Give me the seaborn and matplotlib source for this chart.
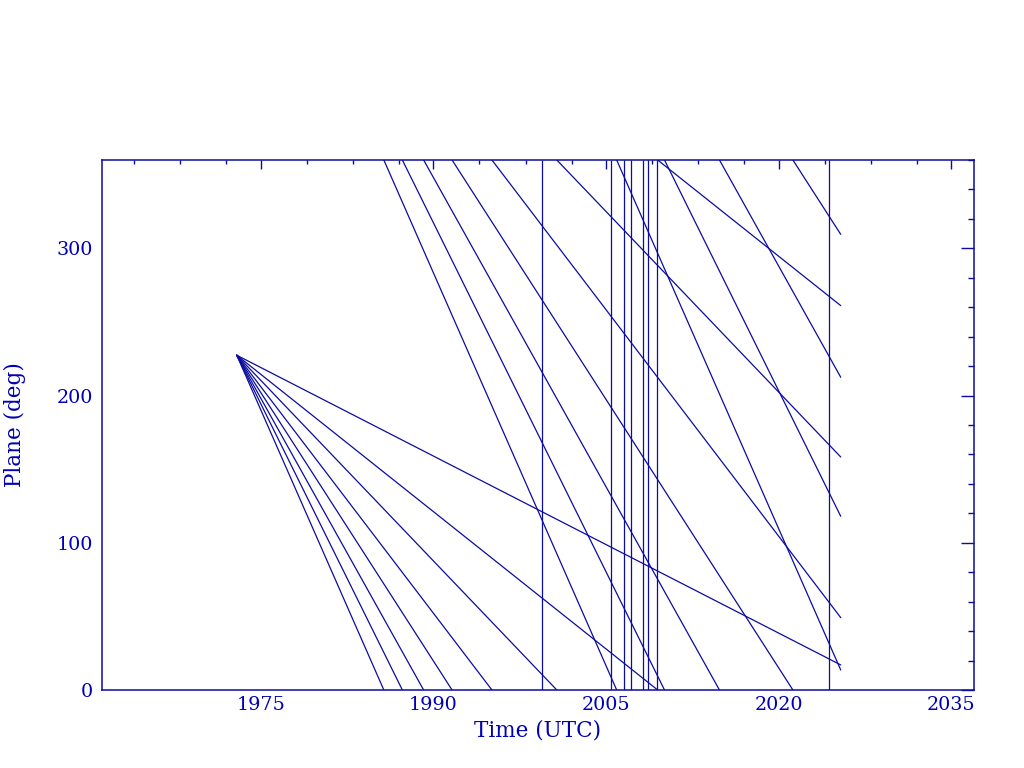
import numpy as np
import pandas as pd
import matplotlib
matplotlib.use("Agg")
import matplotlib.pyplot as plt
from matplotlib.ticker import FixedLocator, MultipleLocator
import seaborn as sns

# ---- data ----
start_year = 1972.92          # common origin of all plane tracks
start_plane = 227.4           # deg
end_year = 2025.38            # tracks stop here
drift_rates = [-17.80, -15.81, -14.01, -12.16, -10.26, -8.18, -6.22, -4.01]  # deg / year
event_years = [1999.46, 2005.45, 2006.58, 2007.19, 2008.23, 2008.67, 2009.45, 2024.39]

x_major = [1975, 1990, 2005, 2020, 2035]
x_minor = [1964, 1968, 1972, 1979, 1983, 1987, 1994, 1998, 2002,
           2009, 2013, 2017, 2024, 2028, 2032]
y_major = [0, 100, 200, 300]
x_limits = (1961.24, 2036.93)
y_limits = (0, 360)

LINE_COLOR = "#0c0c9e"
TEXT_COLOR = "#0000b4"

# ---- build wrapped (mod 360) segments of each track ----
rows = []
seg_id = 0
for li, rate in enumerate(drift_rates):
    t_prev, p_prev = start_year, start_plane
    k = 0
    while True:
        t_cross = start_year + (start_plane + 360 * k) / (-rate)
        if t_cross >= end_year:
            p_end = (start_plane + rate * (end_year - start_year)) % 360
            rows.append((li, seg_id, t_prev, p_prev))
            rows.append((li, seg_id, end_year, p_end))
            seg_id += 1
            break
        rows.append((li, seg_id, t_prev, p_prev))
        rows.append((li, seg_id, t_cross, 0.0))
        seg_id += 1
        t_prev, p_prev = t_cross, 360.0
        k += 1
df = pd.DataFrame(rows, columns=["track", "seg", "year", "plane"])

# ---- figure ----
sns.set_theme(style="white")
plt.rcParams["font.family"] = ["DejaVu Serif", "DejaVu Sans"]

fig = plt.figure(figsize=(10.24, 7.68), dpi=100)
ax = fig.add_axes([102.3 / 1024, 1 - 690 / 768, (973.7 - 102.3) / 1024, (690 - 160) / 768])

sns.lineplot(data=df, x="year", y="plane", units="seg", estimator=None,
             color=LINE_COLOR, lw=0.9, ax=ax, legend=False)
ax.vlines(event_years, y_limits[0], y_limits[1], color=LINE_COLOR, lw=0.9)

ax.set_xlim(*x_limits)
ax.set_ylim(*y_limits)

ax.xaxis.set_major_locator(FixedLocator(x_major))
ax.xaxis.set_minor_locator(FixedLocator(x_minor))
ax.set_xticklabels([str(v) for v in x_major])
ax.yaxis.set_major_locator(FixedLocator(y_major))
ax.yaxis.set_minor_locator(MultipleLocator(20))
ax.set_yticklabels([str(v) for v in y_major])

for sp in ax.spines.values():
    sp.set_color(LINE_COLOR)
    sp.set_linewidth(1.1)

ax.tick_params(axis="both", which="both", direction="in", top=True, right=True,
               color=LINE_COLOR, width=1.0, labelcolor=TEXT_COLOR, labelsize=13.8)
ax.tick_params(axis="x", which="major", length=6.5, pad=4.5)
ax.tick_params(axis="x", which="minor", length=3.2)
ax.tick_params(axis="y", which="major", length=9.1, pad=7)
ax.tick_params(axis="y", which="minor", length=4.3)

ax.set_xlabel("Time (UTC)", color=TEXT_COLOR, fontsize=15.5, va="center")
ax.set_ylabel("Plane (deg)", color=TEXT_COLOR, fontsize=15.5, va="center")
ax.xaxis.set_label_coords(0.5, (690 - 731) / 530)
ax.yaxis.set_label_coords((15 - 102.3) / 871.4, 0.5)

fig.savefig("out.png", dpi=100)
